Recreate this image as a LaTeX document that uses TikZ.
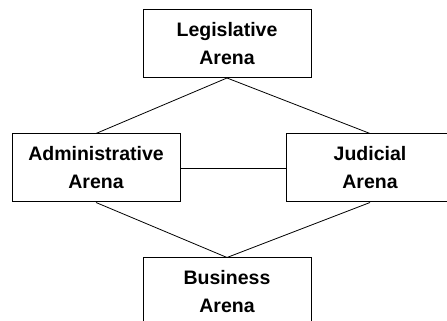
\documentclass[tikz,border=0pt]{standalone}
\usepackage{fontspec}
\setmainfont{Liberation Sans}
\begin{document}
\begin{tikzpicture}[x=1pt,y=1pt,
  arena/.style={draw=black, line width=1pt, fill=white, minimum width=168pt, minimum height=68pt,
    inner sep=0pt, align=center, font=\fontsize{19.5}{28}\selectfont\bfseries},
  link/.style={draw=black, line width=0.8pt}]
\useasboundingbox (0,0) rectangle (447,321);
\clip (0,0) rectangle (447,321);
\fill[white] (0,0) rectangle (447,321);
\node[arena] (leg) at (227,277.5) {Legislative\\Arena};
\node[arena] (adm) at (96,153) {Administrative\\Arena};
\node[arena] (jud) at (370,153) {Judicial\\Arena};
\node[arena] (bus) at (227,29) {Business\\Arena};
\draw[link] (leg.south) -- (adm.north);
\draw[link] (leg.south) -- (jud.north);
\draw[link] (adm.east) -- (jud.west);
\draw[link] (adm.south) -- (bus.north);
\draw[link] (jud.south) -- (bus.north);
\end{tikzpicture}
\end{document}
